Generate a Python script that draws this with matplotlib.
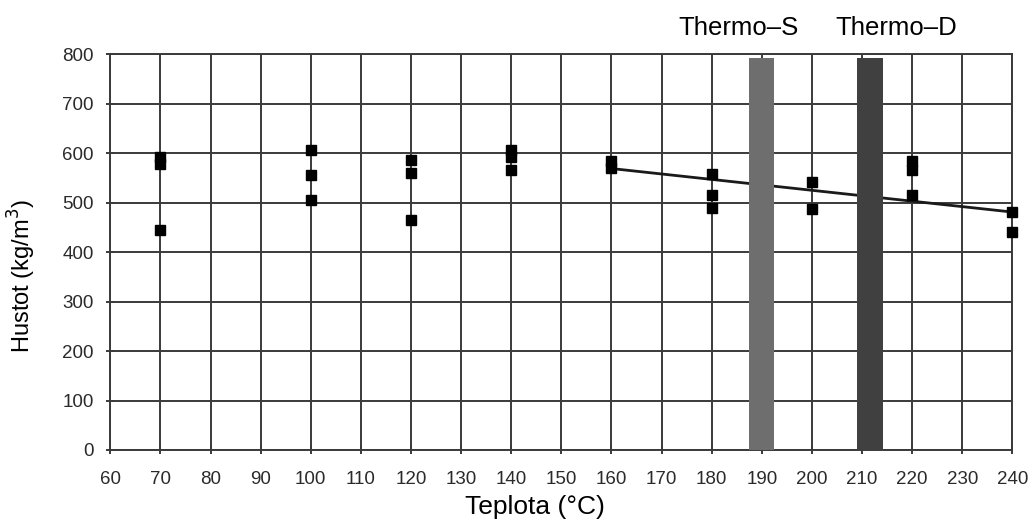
import matplotlib
matplotlib.use('Agg')
import matplotlib.pyplot as plt

plt.rcParams['font.family'] = ['Liberation Sans', 'DejaVu Sans']

# measured points, temperature (C) vs density (kg/m3)
temps = [70, 70, 70, 100, 100, 100, 120, 120, 120, 140, 140, 140,
         160, 160, 180, 180, 180, 200, 200, 220, 220, 220, 240, 240]
density = [593, 578, 445, 606, 556, 505, 586, 560, 465, 607, 592, 566,
           585, 570, 557, 515, 489, 541, 488, 585, 567, 515, 481, 441]

# linear trend over the upper range
trend_x = [160, 240]
trend_y = [569, 481]

# treatment bars
bar_x = [190, 211.5]
bar_h = [792, 792]
bar_w = [5, 5.2]
bar_colors = ['#6e6e6e', '#404040']
bar_names = ['Thermo\u2013S', 'Thermo\u2013D']
name_x = [185.3, 216.9]

fig = plt.figure(figsize=(10.31, 5.22), dpi=100)
a = fig.add_axes([0.107, 0.138, 0.875, 0.758])

a.plot(trend_x, trend_y, color='#1a1a1a', lw=2, zorder=2)
a.bar(bar_x, bar_h, width=bar_w, color=bar_colors, zorder=3)
a.plot(temps, density, 's', color='black', markersize=7.5, zorder=4, clip_on=False)

a.set_xlim(60, 240)
a.set_ylim(0, 800)
a.set_xticks(range(60, 241, 10))
a.set_yticks(range(0, 801, 100))
a.grid(True, color='#3a3a3a', lw=1.4, zorder=1)
a.set_axisbelow(True)
for s in a.spines.values():
    s.set_color('#3a3a3a')
    s.set_linewidth(1.4)
a.tick_params(axis='both', labelsize=13.5, colors='#3a3a3a', labelcolor='#2a2a2a',
              length=6, width=1.4, direction='inout')
a.tick_params(axis='x', pad=12)
a.tick_params(axis='y', pad=9)

# axis titles placed by hand, as in the source picture
fig.text(535 / 1031, 1 - 507 / 522, 'Teplota (°C)', ha='center', va='center', fontsize=19)
fig.text(22 / 1031, 1 - 276 / 522, 'Hustot (kg/m$^3$)', ha='center', va='center',
         rotation=90, fontsize=17)

for x, name in zip(name_x, bar_names):
    a.text(x, 1.035, name, transform=a.get_xaxis_transform(), ha='center', va='bottom',
           fontsize=18.5)

fig.savefig('out.png', dpi=100)
